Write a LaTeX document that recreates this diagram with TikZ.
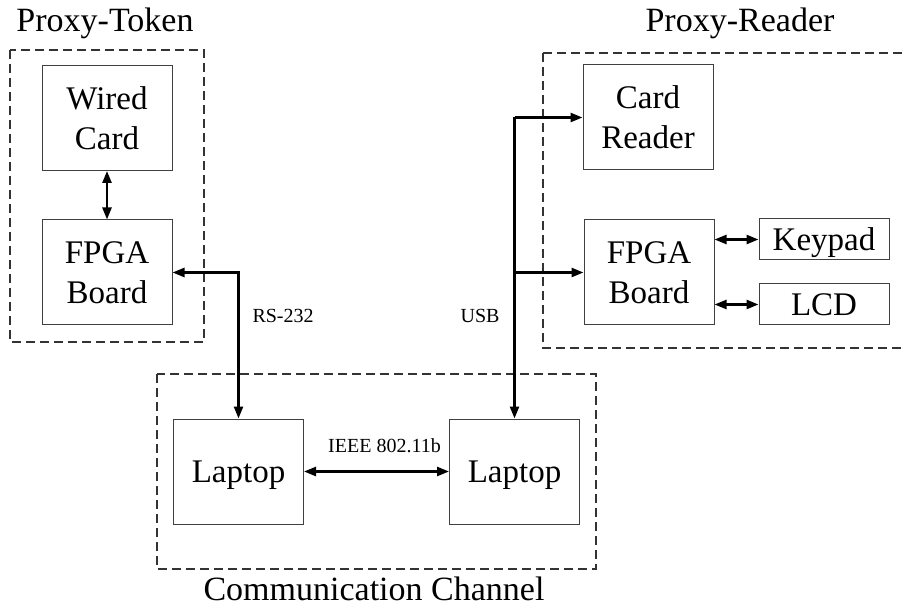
\documentclass[tikz,border=0pt]{standalone}
\usepackage{fontspec}
\setmainfont{Liberation Serif}
\usetikzlibrary{arrows.meta}

\tikzset{
  blk/.style={draw=black!75, line width=1pt, minimum width=130pt, minimum height=105pt,
    align=center, inner sep=0pt, font=\fontsize{33}{40}\selectfont},
  oneline/.style={text height=22pt, text depth=0pt},
  smallblk/.style={blk, oneline, minimum height=41pt},
  grp/.style={draw=black!80, dashed, dash pattern=on 9pt off 5pt, line width=1.2pt},
  link/.style={line width=2.4pt, -{Triangle[length=12pt,width=9pt]}},
  dlink/.style={line width=2.4pt, {Triangle[length=12pt,width=9pt]}-{Triangle[length=12pt,width=9pt]}},
  title/.style={font=\fontsize{34}{40}\selectfont, anchor=base},
  tag/.style={font=\fontsize{20}{24}\selectfont}
}

\begin{document}
\begin{tikzpicture}[x=1pt, y=-1pt]
  \useasboundingbox (0,0) rectangle (905,612);

  % --- Proxy-Token ---
  \draw[grp] (10,50) rectangle (204,342);
  \node[title] (ttoken) at (105,32) {Proxy-Token};
  \node[blk] (wired) at (107,118) {Wired\\Card};
  \node[blk] (fpgaT) at (107,272.5) {FPGA\\Board};
  \draw[dlink] (wired.south) -- (fpgaT.north);

  % --- Proxy-Reader ---
  \draw[grp] (543,53) -- (905,53);
  \draw[grp] (543,53) -- (543,348) -- (905,348);
  \node[title] (treader) at (740,32) {Proxy-Reader};
  \node[blk] (reader) at (648,117.5) {Card\\Reader};
  \node[blk] (fpgaR) at (649,272.5) {FPGA\\Board};
  \node[smallblk] (keypad) at (824,239.5) {Keypad};
  \node[smallblk] (lcd) at (824,304.5) {LCD};
  \draw[dlink] (fpgaR.east |- keypad.west) -- (keypad.west);
  \draw[dlink] (fpgaR.east |- lcd.west) -- (lcd.west);

  % --- Communication Channel ---
  \draw[grp] (157,374) rectangle (596,569);
  \node[title] (tchan) at (374,600) {Communication Channel};
  \node[blk, oneline] (lapL) at (238.5,471.5) {Laptop};
  \node[blk, oneline] (lapR) at (514.5,471.5) {Laptop};
  \draw[dlink] (lapL.east) -- (lapR.west)
    node[tag, midway, above=14pt, xshift=8pt] (wifi) {IEEE 802.11b};

  % --- links between groups ---
  \draw[dlink] (fpgaT.east) -| (lapL.north);
  \node[tag, anchor=base west] (rs) at (249,323) {RS-232};

  \coordinate (usb) at (lapR.north |- reader.west);
  \draw[link] (usb) -- (reader.west);
  \draw[link] (usb) -- (lapR.north);
  \draw[link] (usb |- fpgaR.west) -- (fpgaR.west);
  \node[tag, anchor=base east] (usbtag) at (503,323) {USB};
\end{tikzpicture}
\end{document}
